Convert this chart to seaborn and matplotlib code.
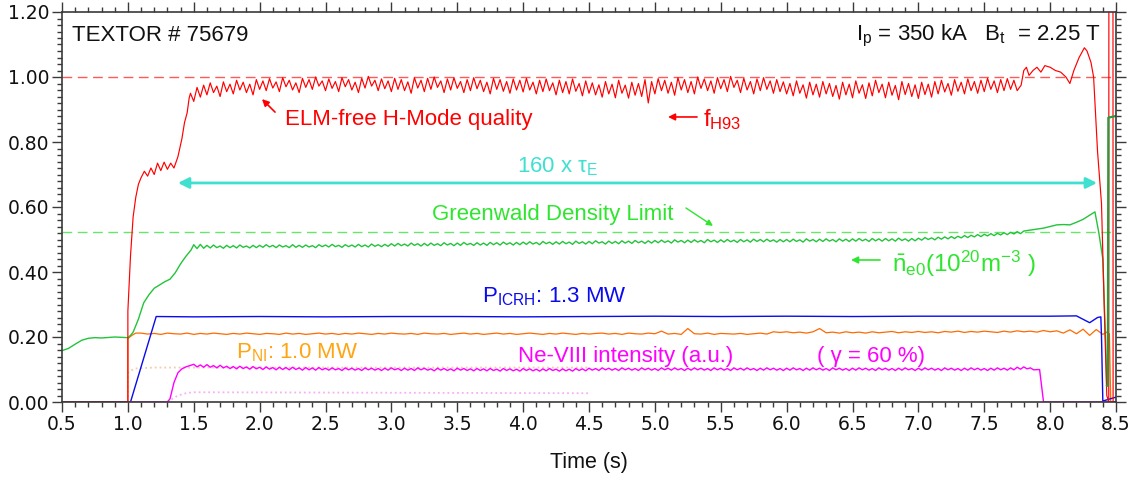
import numpy as np
import matplotlib
matplotlib.use("Agg")
import matplotlib.pyplot as plt
import seaborn as sns
from matplotlib.ticker import MultipleLocator, FormatStrFormatter

# ---------------- data ----------------
# f_H93 (H-mode quality factor)
red_start_t = [0.5, 1.0, 1.0, 1.02, 1.04, 1.06, 1.08, 1.10, 1.125, 1.15, 1.175, 1.20,
               1.225, 1.25, 1.275, 1.30, 1.325, 1.35, 1.38, 1.41, 1.43, 1.45, 1.465]
red_start_v = [0.0, 0.0, 0.28, 0.45, 0.57, 0.63, 0.67, 0.69, 0.71, 0.695, 0.72, 0.70,
               0.735, 0.712, 0.738, 0.716, 0.735, 0.72, 0.755, 0.81, 0.86, 0.89, 0.935]
red_teeth_t0 = 1.475
red_hi = [
    0.950, 0.968, 0.975, 0.982, 0.972, 0.985, 0.978, 0.990, 0.984, 0.978, 0.992,
    0.988, 0.995, 0.985, 0.998, 0.990, 0.982, 0.996, 0.992, 1.000, 0.988,
    0.994, 0.986, 0.998, 0.992, 0.984, 0.996, 1.002, 0.990, 0.994, 0.988,
    0.996, 0.992, 0.985, 0.998, 0.990, 0.996, 1.000, 0.988, 0.994, 0.998,
    0.986, 0.992, 0.998, 0.990, 0.984, 0.996, 0.992, 0.986, 0.994, 0.990,
    0.996, 0.984, 0.990, 0.994, 0.982, 0.990, 0.986, 0.994, 0.980, 0.988,
    0.982, 0.976, 0.986, 0.978, 0.990, 0.975, 0.984, 0.980, 0.992, 0.986,
    0.995, 0.990, 0.984, 0.998, 0.992,
    0.986, 1.000, 0.994, 0.988, 0.998, 0.992, 1.002, 0.990, 0.996, 0.986,
    0.994, 0.998, 0.988, 0.992, 0.985,
    0.980, 0.988, 0.976, 0.984, 0.978, 0.986, 0.980, 0.974, 0.984, 0.978,
    0.988, 0.976, 0.982, 0.990, 0.978, 0.984, 0.974, 0.986, 0.980, 0.976,
    0.984, 0.978,
    0.986, 0.990, 0.980, 0.992, 0.984, 0.994, 0.986, 0.990, 0.996, 0.988,
    0.992, 0.995, 0.990,
]
red_lo = [
    0.925, 0.938, 0.945, 0.952, 0.940, 0.955, 0.948, 0.960, 0.952, 0.945, 0.962,
    0.958, 0.966, 0.955, 0.970, 0.960, 0.952, 0.968, 0.962, 0.972, 0.958,
    0.965, 0.955, 0.970, 0.960, 0.952, 0.966, 0.972, 0.958, 0.964, 0.955,
    0.962, 0.958, 0.950, 0.966, 0.955, 0.962, 0.968, 0.952, 0.960, 0.965,
    0.952, 0.958, 0.964, 0.955, 0.948, 0.962, 0.956, 0.950, 0.960, 0.954,
    0.960, 0.948, 0.955, 0.958, 0.945, 0.952, 0.948, 0.956, 0.942, 0.950,
    0.945, 0.938, 0.948, 0.936, 0.950, 0.935, 0.944, 0.940, 0.920, 0.948,
    0.958, 0.950, 0.944, 0.960, 0.952,
    0.948, 0.965, 0.958, 0.950, 0.964, 0.955, 0.968, 0.952, 0.960, 0.948,
    0.958, 0.962, 0.950, 0.955, 0.948,
    0.942, 0.950, 0.935, 0.945, 0.938, 0.948, 0.940, 0.932, 0.945, 0.936,
    0.950, 0.934, 0.942, 0.952, 0.936, 0.944, 0.930, 0.946, 0.940, 0.934,
    0.946, 0.938,
    0.948, 0.954, 0.944, 0.956, 0.948, 0.958, 0.950, 0.955, 0.962, 0.952,
    0.958, 0.962, 0.958,
]
red_end_t = [7.78, 7.80, 7.82, 7.84, 7.87, 7.90, 7.93, 7.96, 8.00, 8.04, 8.08, 8.12,
             8.15, 8.18, 8.22, 8.26, 8.28, 8.31, 8.33, 8.36, 8.39, 8.41, 8.43,
             8.445, 8.446, 8.477, 8.478, 8.5]
red_end_v = [0.975, 1.02, 1.03, 1.005, 1.02, 1.03, 1.015, 1.035, 1.03, 1.02, 1.015, 1.0,
             0.98, 1.02, 1.06, 1.09, 1.08, 1.045, 1.0, 0.77, 0.61, 0.30, 0.02,
             0.0, 1.3, 1.3, 0.0, 0.0]

# line-averaged density n_e0 (1e20 m^-3)
green_start_t = [0.5, 0.55, 0.6, 0.65, 0.7, 0.75, 0.8, 0.9, 1.0, 1.02, 1.04, 1.08,
                 1.12, 1.16, 1.20, 1.24, 1.28, 1.32, 1.36, 1.40, 1.44, 1.48]
green_start_v = [0.158, 0.165, 0.178, 0.19, 0.196, 0.198, 0.197, 0.200, 0.198, 0.205,
                 0.215, 0.255, 0.305, 0.33, 0.35, 0.36, 0.37, 0.378, 0.398, 0.425,
                 0.448, 0.468]
green_teeth_t0 = 1.5
green_hi = [
    0.484, 0.485, 0.482, 0.483, 0.480, 0.482, 0.481, 0.483, 0.480, 0.482,
    0.482, 0.484, 0.482, 0.483, 0.481, 0.484, 0.482, 0.483, 0.481, 0.484,
    0.483, 0.485, 0.482, 0.484, 0.483, 0.485, 0.483, 0.486, 0.484, 0.485,
    0.487, 0.488, 0.486, 0.489, 0.487, 0.488, 0.489, 0.487, 0.490, 0.488,
    0.489, 0.491, 0.488, 0.490, 0.489, 0.491, 0.490, 0.492, 0.490, 0.491,
    0.492, 0.493, 0.491, 0.494, 0.492, 0.493, 0.494, 0.492, 0.495, 0.493,
    0.494, 0.496, 0.493, 0.495, 0.494, 0.496, 0.495, 0.497, 0.495, 0.496,
    0.497, 0.498, 0.496, 0.499, 0.497, 0.498, 0.499, 0.497, 0.500, 0.498,
    0.499, 0.500, 0.498, 0.500, 0.499, 0.501, 0.500, 0.501, 0.499, 0.500,
    0.500, 0.501, 0.499, 0.502, 0.500, 0.501, 0.502, 0.500, 0.502, 0.501,
    0.502, 0.503, 0.501, 0.503, 0.502, 0.503, 0.502, 0.504, 0.502, 0.503,
    0.504, 0.506, 0.505, 0.507, 0.508, 0.509, 0.510, 0.512, 0.513, 0.515,
    0.516, 0.518, 0.519, 0.521, 0.522, 0.524,
]
green_lo = [
    0.472, 0.473, 0.474, 0.475, 0.473, 0.475, 0.474, 0.476, 0.474, 0.475,
    0.476, 0.477, 0.475, 0.477, 0.475, 0.476, 0.476, 0.477, 0.475, 0.478,
    0.477, 0.478, 0.476, 0.478, 0.477, 0.478, 0.477, 0.479, 0.478, 0.479,
    0.480, 0.481, 0.480, 0.482, 0.480, 0.481, 0.482, 0.481, 0.483, 0.481,
    0.482, 0.484, 0.482, 0.483, 0.482, 0.484, 0.483, 0.485, 0.483, 0.484,
    0.485, 0.486, 0.484, 0.487, 0.485, 0.486, 0.487, 0.485, 0.488, 0.486,
    0.487, 0.489, 0.486, 0.488, 0.487, 0.489, 0.488, 0.490, 0.488, 0.489,
    0.490, 0.491, 0.489, 0.492, 0.490, 0.491, 0.492, 0.490, 0.493, 0.491,
    0.492, 0.493, 0.491, 0.493, 0.492, 0.494, 0.493, 0.494, 0.492, 0.493,
    0.493, 0.494, 0.492, 0.495, 0.493, 0.494, 0.495, 0.493, 0.495, 0.494,
    0.495, 0.496, 0.494, 0.496, 0.495, 0.496, 0.495, 0.497, 0.495, 0.496,
    0.498, 0.500, 0.499, 0.501, 0.502, 0.503, 0.505, 0.506, 0.508, 0.509,
    0.511, 0.512, 0.514, 0.515, 0.517, 0.518,
]
green_end_t = [7.80, 7.85, 7.90, 7.95, 8.00, 8.05, 8.10, 8.15, 8.20, 8.25, 8.30, 8.34,
               8.37, 8.40, 8.42, 8.43]
green_end_v = [0.526, 0.529, 0.532, 0.535, 0.540, 0.545, 0.546, 0.545, 0.553, 0.562,
               0.575, 0.585, 0.52, 0.44, 0.20, 0.05]
# post-disruption density signal (drawn darker on top)
green_tail_t = [8.43, 8.438, 8.442, 8.5]
green_tail_v = [0.05, 0.05, 0.875, 0.88]

# P_ICRH (blue)
blue_t = [0.5, 1.02, 1.215, 1.5, 2.0, 2.5, 3.0, 3.5, 4.0, 4.5, 5.0, 5.5, 6.0, 6.5,
          7.0, 7.5, 8.0, 8.2, 8.3, 8.36, 8.385, 8.39, 8.40, 8.5]
blue_v = [0.0, 0.0, 0.263, 0.262, 0.263, 0.262, 0.263, 0.263, 0.262, 0.263, 0.264,
          0.263, 0.264, 0.263, 0.264, 0.264, 0.264, 0.265, 0.244, 0.260, 0.262,
          0.20, 0.003, 0.015]

# P_NI (orange)
orange_start_t = [0.5, 1.0, 1.0, 1.03, 1.06]
orange_start_v = [0.0, 0.0, 0.195, 0.205, 0.212]
orange_t0 = 1.10
orange_v = [
    0.212, 0.209, 0.211, 0.208, 0.212, 0.210, 0.209, 0.212, 0.208, 0.211,
    0.209, 0.212, 0.210, 0.208, 0.211, 0.209, 0.212, 0.210, 0.208, 0.211,
    0.210, 0.208, 0.212, 0.209, 0.211, 0.208, 0.210, 0.212, 0.209, 0.211,
    0.208, 0.211, 0.209, 0.212, 0.210, 0.208, 0.211, 0.209, 0.212, 0.210,
    0.209, 0.211, 0.208, 0.212, 0.210, 0.209, 0.211, 0.208, 0.210, 0.212,
    0.209, 0.211, 0.208, 0.210, 0.212, 0.209, 0.211, 0.208, 0.210, 0.212,
    0.210, 0.208, 0.211, 0.209, 0.212, 0.210, 0.208, 0.211, 0.209, 0.211,
    0.212, 0.209, 0.211, 0.208, 0.212, 0.210, 0.209, 0.212, 0.210, 0.218,
    0.209, 0.211, 0.208, 0.226, 0.210, 0.209, 0.212, 0.208, 0.211, 0.210,
    0.209, 0.211, 0.208, 0.210, 0.212, 0.209, 0.216, 0.214, 0.216, 0.213,
    0.215, 0.212, 0.216, 0.226, 0.213, 0.215, 0.212, 0.216, 0.213, 0.215,
    0.212, 0.216, 0.213, 0.215, 0.217, 0.213, 0.216, 0.214, 0.217, 0.214,
    0.216, 0.213, 0.217, 0.215, 0.218, 0.214, 0.217, 0.215, 0.218, 0.216,
    0.214, 0.218, 0.215, 0.219, 0.216, 0.218, 0.215, 0.220, 0.216, 0.219,
    0.212, 0.222, 0.210, 0.224, 0.205, 0.223, 0.208,
]
orange_end_t = [8.43, 8.45, 8.46, 8.5]
orange_end_v = [0.215, 0.21, 0.0, 0.0]

# Ne-VIII intensity (magenta)
mag_start_t = [0.5, 1.30, 1.32, 1.35, 1.38, 1.41, 1.44, 1.47]
mag_start_v = [0.0, 0.0, 0.01, 0.06, 0.09, 0.102, 0.108, 0.112]
mag_teeth_t0 = 1.5
mag_hi = [
    0.116, 0.114, 0.115, 0.112, 0.113, 0.110,
    0.109, 0.110, 0.108, 0.109, 0.107, 0.108, 0.106, 0.107, 0.106, 0.107,
    0.105, 0.106, 0.105, 0.106,
    0.104, 0.105, 0.103, 0.105, 0.104, 0.103, 0.105, 0.104, 0.103, 0.104, 0.105, 0.103,
    0.104, 0.103, 0.105, 0.104, 0.102, 0.104, 0.103, 0.102, 0.104, 0.103, 0.102, 0.103,
    0.102, 0.103, 0.101, 0.103, 0.102, 0.101, 0.103, 0.102, 0.101, 0.102, 0.103, 0.101,
    0.102, 0.101, 0.103, 0.102, 0.104, 0.103, 0.105, 0.104, 0.103, 0.105, 0.104, 0.103,
    0.105, 0.104, 0.103, 0.105, 0.104, 0.105, 0.103, 0.104, 0.105, 0.104, 0.103, 0.105,
    0.104, 0.103, 0.105, 0.104, 0.105, 0.103, 0.104, 0.105, 0.104, 0.103, 0.104, 0.105,
    0.103, 0.104, 0.105, 0.104, 0.103, 0.105, 0.104, 0.103, 0.104, 0.105, 0.104, 0.103,
    0.105, 0.104, 0.103, 0.104, 0.105, 0.103, 0.104, 0.105, 0.104, 0.103, 0.105, 0.104,
    0.103, 0.104, 0.105, 0.104, 0.103, 0.104, 0.105, 0.104, 0.105, 0.107, 0.108, 0.105,
]
mag_lo = [
    0.108, 0.107, 0.107, 0.105, 0.105, 0.103,
    0.102, 0.103, 0.101, 0.102, 0.100, 0.101, 0.099, 0.100, 0.099, 0.100,
    0.098, 0.099, 0.098, 0.099,
    0.098, 0.099, 0.097, 0.099, 0.098, 0.097, 0.099, 0.098, 0.097, 0.098, 0.099, 0.097,
    0.098, 0.097, 0.099, 0.098, 0.096, 0.098, 0.097, 0.096, 0.098, 0.097, 0.096, 0.097,
    0.096, 0.097, 0.095, 0.097, 0.096, 0.095, 0.097, 0.096, 0.095, 0.096, 0.097, 0.095,
    0.096, 0.095, 0.097, 0.096, 0.098, 0.097, 0.099, 0.098, 0.097, 0.099, 0.098, 0.097,
    0.099, 0.098, 0.097, 0.099, 0.098, 0.099, 0.097, 0.098, 0.099, 0.098, 0.097, 0.099,
    0.098, 0.097, 0.099, 0.098, 0.099, 0.097, 0.098, 0.099, 0.098, 0.097, 0.098, 0.099,
    0.097, 0.098, 0.099, 0.098, 0.097, 0.099, 0.098, 0.097, 0.098, 0.099, 0.098, 0.097,
    0.099, 0.098, 0.097, 0.098, 0.099, 0.097, 0.098, 0.099, 0.098, 0.097, 0.099, 0.098,
    0.097, 0.098, 0.099, 0.098, 0.097, 0.098, 0.099, 0.098, 0.099, 0.101, 0.102, 0.099,
]
mag_end_t = [7.92, 7.95, 8.5]
mag_end_v = [0.100, 0.0, 0.0]

# faint reference traces (shown until 4.5 s)
pale_orange_t = [1.0, 1.0, 1.05, 1.2, 4.5]
pale_orange_v = [0.0, 0.09, 0.103, 0.106, 0.106]
pale_mag_t = [1.30, 1.38, 1.45, 1.5, 4.5]
pale_mag_v = [0.0, 0.02, 0.028, 0.03, 0.027]

h93_ref = 1.0
greenwald_limit = 0.523
tau_arrow_t = [1.38, 8.356]
tau_arrow_v = 0.674


def teeth(t0, hi, lo):
    n = min(len(hi), len(lo))
    t = t0 + 0.025 * np.arange(2 * n)
    v = np.empty(2 * n)
    v[0::2] = hi[:n]
    v[1::2] = lo[:n]
    return t, v


rt, rv = teeth(red_teeth_t0, red_hi, red_lo)
red_t = np.concatenate([red_start_t, rt, red_end_t])
red_v = np.concatenate([red_start_v, rv, red_end_v])

gt, gv = teeth(green_teeth_t0, green_hi, green_lo)
green_t = np.concatenate([green_start_t, gt, green_end_t])
green_v = np.concatenate([green_start_v, gv, green_end_v])

mt, mv = teeth(mag_teeth_t0, mag_hi, mag_lo)
mag_t = np.concatenate([mag_start_t, mt, mag_end_t])
mag_v = np.concatenate([mag_start_v, mv, mag_end_v])

ot = orange_t0 + 0.05 * np.arange(len(orange_v))
orange_t = np.concatenate([orange_start_t, ot, orange_end_t])
orange_vv = np.concatenate([orange_start_v, orange_v, orange_end_v])

# ---------------- style ----------------
sns.set_theme(style="ticks")
plt.rcParams['font.family'] = ['Liberation Sans', 'DejaVu Sans']
plt.rcParams['mathtext.fontset'] = 'custom'
plt.rcParams['mathtext.rm'] = 'Liberation Sans'
plt.rcParams['mathtext.it'] = 'Liberation Sans:italic'
plt.rcParams['mathtext.bf'] = 'Liberation Sans:bold'
plt.rcParams['mathtext.default'] = 'regular'

RED = '#ff0000'
GREEN_LINE = '#22c43a'
GREEN_DARK = '#2a9a3a'
GREEN_TXT = '#2ee62e'
BLUE = '#0a0aee'
ORANGE_LINE = '#ff6a00'
ORANGE_TXT = '#ffa514'
MAGENTA = '#ff00ff'
CYAN = '#40e0d0'
AXC = '#3a3a3a'

fig = plt.figure(figsize=(11.44, 4.79), dpi=100)
ax = fig.add_axes([62 / 1144, 77 / 479, (1116 - 62) / 1144, 390 / 479])

ax.axhline(h93_ref, color='#ff5a5a', lw=1.0, dashes=(7, 4), zorder=1)
ax.axhline(greenwald_limit, color='#66e866', lw=1.0, dashes=(7, 4), zorder=1)

kw = dict(ax=ax, estimator=None, sort=False, legend=False)
sns.lineplot(x=pale_orange_t, y=pale_orange_v, color='#f7c9a8', lw=1.3, ls=':', **kw)
sns.lineplot(x=pale_mag_t, y=pale_mag_v, color='#f6b0f6', lw=1.3, ls=':', **kw)
sns.lineplot(x=orange_t, y=orange_vv, color=ORANGE_LINE, lw=0.9, **kw)
sns.lineplot(x=blue_t, y=blue_v, color=BLUE, lw=1.0, **kw)
sns.lineplot(x=mag_t, y=mag_v, color=MAGENTA, lw=1.0, **kw)
sns.lineplot(x=green_t, y=green_v, color=GREEN_LINE, lw=1.0, **kw)
sns.lineplot(x=red_t, y=red_v, color=RED, lw=0.85, **kw)
sns.lineplot(x=green_tail_t, y=green_tail_v, color=GREEN_DARK, lw=1.6, **kw)

ax.annotate('', xy=(tau_arrow_t[1], tau_arrow_v), xytext=(tau_arrow_t[0], tau_arrow_v),
            arrowprops=dict(arrowstyle='<|-|>', color=CYAN, lw=2.0, mutation_scale=16,
                            shrinkA=0, shrinkB=0))

# ---------------- axes ----------------
ax.set_xlim(0.5, 8.5)
ax.set_ylim(0.0, 1.2)
ax.xaxis.set_major_locator(MultipleLocator(0.5))
ax.xaxis.set_minor_locator(MultipleLocator(0.1))
ax.yaxis.set_major_locator(MultipleLocator(0.2))
ax.yaxis.set_minor_locator(MultipleLocator(0.02))
ax.xaxis.set_major_formatter(FormatStrFormatter('%.1f'))
ax.yaxis.set_major_formatter(FormatStrFormatter('%.2f'))
ax.tick_params(which='both', direction='out', top=True, right=True,
               labeltop=False, labelright=False, color=AXC, width=1.0)
ax.tick_params(which='major', length=7.5, labelsize=13.5, pad=1.5, labelcolor='#111111')
ax.tick_params(which='minor', length=3.5)
for lbl in ax.get_xticklabels() + ax.get_yticklabels():
    lbl.set_fontfamily('DejaVu Sans')
for s in ax.spines.values():
    s.set_color(AXC)
    s.set_linewidth(1.2)
ax.set_xlabel('Time (s)', fontsize=15.5, labelpad=13, color='#111111')
ax.set_ylabel('')

# ---------------- annotations ----------------
FS = 16
ax.text(0.576, 1.112, 'TEXTOR # 75679', fontsize=FS, color='#111111', va='baseline')
ax.text(8.386, 1.112, r'$I_p$ = 350 kA   $B_t$  = 2.25 T', fontsize=FS, color='#111111',
        va='baseline', ha='right')
ax.text(2.193, 0.852, 'ELM-free H-Mode quality', fontsize=FS, color=RED, va='baseline')
ax.annotate('', xy=(2.018, 0.932), xytext=(2.117, 0.892),
            arrowprops=dict(arrowstyle='-|>', color=RED, lw=1.2, mutation_scale=10,
                            shrinkA=0, shrinkB=0))
ax.text(5.365, 0.849, r'$f_{H93}$', fontsize=FS + 1, color=RED, va='baseline')
ax.annotate('', xy=(5.10, 0.877), xytext=(5.32, 0.877),
            arrowprops=dict(arrowstyle='-|>', color=RED, lw=1.2, mutation_scale=10,
                            shrinkA=0, shrinkB=0))
ax.text(3.953, 0.705, r'160 x τ$_E$', fontsize=FS, color=CYAN, va='baseline')
ax.text(3.308, 0.560, 'Greenwald Density Limit', fontsize=FS, color=GREEN_TXT, va='baseline')
ax.annotate('', xy=(5.441, 0.542), xytext=(5.236, 0.597),
            arrowprops=dict(arrowstyle='-|>', color=GREEN_TXT, lw=1.0, mutation_scale=9,
                            shrinkA=0, shrinkB=0))
ax.annotate('', xy=(6.489, 0.437), xytext=(6.709, 0.437),
            arrowprops=dict(arrowstyle='-|>', color=GREEN_TXT, lw=1.2, mutation_scale=10,
                            shrinkA=0, shrinkB=0))
ax.text(6.80, 0.400, r'$\bar{n}_{e0}(10^{20}m^{-3}\ )$', fontsize=FS + 1.5, color=GREEN_TXT,
        va='baseline')
ax.text(3.688, 0.308, r'$P_{ICRH}$: 1.3 MW', fontsize=FS, color=BLUE, va='baseline')
ax.text(1.820, 0.135, r'$P_{NI}$: 1.0 MW', fontsize=FS, color=ORANGE_TXT, va='baseline')
ax.text(3.961, 0.123, 'Ne-VIII intensity (a.u.)', fontsize=FS, color=MAGENTA, va='baseline')
ax.text(6.230, 0.123, '( γ = 60 %)', fontsize=FS, color=MAGENTA, va='baseline')

fig.savefig('out.png', dpi=100, facecolor='white')
